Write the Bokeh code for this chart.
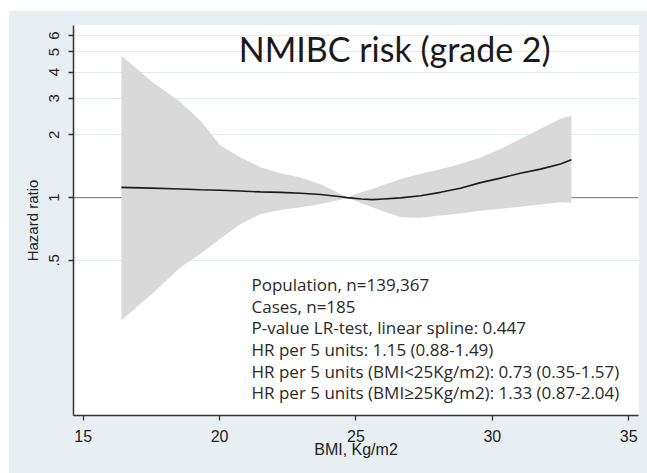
import math
from bokeh.plotting import figure
from bokeh.models import FixedTicker, Span, Label
from bokeh.embed import file_html
from bokeh.resources import INLINE

# Data (BMI, hazard ratio and 95% CI)
bmi = [16.4, 17.5, 18.57, 19.3, 20.03, 20.77, 21.5, 22.24, 22.97, 23.7,
       24.44, 24.68, 25.2, 25.6, 26.0, 26.64, 27.37, 28.1, 28.83, 29.57,
       30.3, 31.03, 31.77, 32.5, 32.9]
hr = [1.12, 1.11, 1.10, 1.09, 1.085, 1.075, 1.065, 1.06, 1.05, 1.035,
      1.01, 1.0, 0.985, 0.978, 0.985, 0.997, 1.02, 1.06, 1.11, 1.18,
      1.24, 1.31, 1.37, 1.45, 1.52]
upper = [4.79, 3.62, 2.88, 2.34, 1.78, 1.56, 1.40, 1.31, 1.25, 1.16,
         1.04, 1.0, 1.06, 1.10, 1.15, 1.23, 1.30, 1.37, 1.45, 1.56,
         1.71, 1.91, 2.14, 2.39, 2.47]
lower = [0.258, 0.343, 0.463, 0.537, 0.634, 0.748, 0.835, 0.873, 0.898, 0.933,
         0.978, 1.0, 0.94, 0.90, 0.86, 0.805, 0.80, 0.82, 0.84, 0.866,
         0.885, 0.905, 0.927, 0.949, 0.945]

y_ticks = [0.5, 1, 2, 3, 4, 5, 6]
y_tick_labels = [".5", "1", "2", "3", "4", "5", "6"]
x_ticks = [15, 20, 25, 30, 35]

title_text = "NMIBC risk (grade 2)"
notes = [
    "Population, n=139,367",
    "Cases, n=185",
    "P-value LR-test, linear spline: 0.447",
    "HR per 5 units: 1.15 (0.88-1.49)",
    "HR per 5 units (BMI<25Kg/m2): 0.73 (0.35-1.57)",
    "HR per 5 units (BMI\u226525Kg/m2): 1.33 (0.87-2.04)",
]

BG = "#e8eff2"
GRID = "#e2ebef"

p = figure(width=639, height=463, x_range=(14.644, 35.36), y_range=(0.09, 6.7),
           y_axis_type="log", output_backend="svg", toolbar_location=None,
           min_border_left=65, min_border_top=15, min_border_right=9,
           min_border_bottom=58, background_fill_color="white",
           border_fill_color=BG, outline_line_color=None,
           margin=(10, 0, 0, 8))

p.xgrid.visible = False
p.ygrid.ticker = FixedTicker(ticks=y_ticks)
p.ygrid.grid_line_color = GRID
p.ygrid.grid_line_width = 1

ref = Span(location=1, dimension="width", line_color="#8c8c8c",
           line_width=1.2, level="underlay")
p.add_layout(ref)

p.varea(x=bmi, y1=lower, y2=upper, fill_color="#d9d9d9", fill_alpha=1.0)
p.line(bmi, hr, line_color="#1a1a1a", line_width=1.6)

# Axes
p.yaxis.ticker = FixedTicker(ticks=y_ticks)
p.yaxis.major_label_overrides = {t: l for t, l in zip(y_ticks, y_tick_labels)}
p.yaxis.major_label_orientation = "vertical"
p.xaxis.ticker = FixedTicker(ticks=x_ticks)
for ax in (p.xaxis, p.yaxis):
    ax.minor_tick_line_color = None
    ax.major_tick_in = 0
    ax.major_tick_out = 5
    ax.major_tick_line_color = "#333333"
    ax.major_tick_line_width = 1.3
    ax.axis_line_color = "#333333"
    ax.axis_line_width = 1.5
    ax.major_label_text_font = "Liberation Sans"
    ax.major_label_text_color = "#222222"
    ax.axis_label_text_font = "Liberation Sans"
    ax.axis_label_text_font_style = "normal"
    ax.axis_label_text_color = "#222222"

p.xaxis.major_label_text_font_size = "16px"
p.yaxis.major_label_text_font_size = "15px"
p.xaxis.axis_label = "BMI, Kg/m2"
p.yaxis.axis_label = "Hazard ratio"
p.xaxis.axis_label_text_font_size = "16px"
p.yaxis.axis_label_text_font_size = "15px"
p.xaxis.major_label_standoff = 9
p.yaxis.major_label_standoff = 9
p.xaxis.axis_label_standoff = -4
p.yaxis.axis_label_standoff = 6

# Title inside the plot
p.add_layout(Label(x=26.42, y=5.19, text=title_text, text_font="Lato",
                   text_font_size="34px", text_align="center",
                   text_baseline="alphabetic", text_color="#1a1a1a"))

# Notes
note_y = [0.3824, 0.3009, 0.2370, 0.1864, 0.1467, 0.1156]
for t, yy in zip(notes, note_y):
    p.add_layout(Label(x=21.17, y=yy, text=t, text_font="Open Sans",
                       text_font_size="17px", text_align="left",
                       text_baseline="alphabetic", text_color="#2a2a2a"))

open("out.html", "w").write(file_html(p, INLINE))
